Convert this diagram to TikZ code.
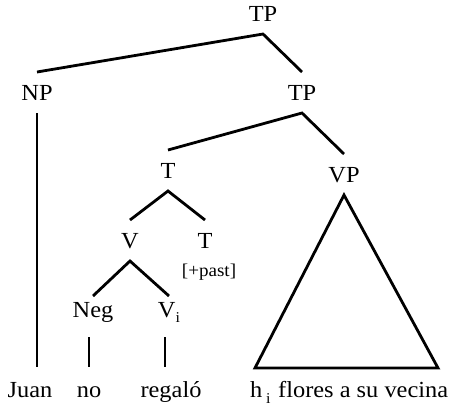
\documentclass[tikz,border=0pt]{standalone}
\usepackage{fontspec}
\setmainfont{Liberation Serif}[FakeStretch=1.06]
\usepackage{tikz}

\newcommand{\idx}[2]{\raisebox{#1}{\fontsize{15}{15}\selectfont #2}}

\begin{document}
\begin{tikzpicture}[x=1pt, y=-1pt,
    cat/.style={anchor=base, inner sep=0pt, outer ysep=13pt,
        text height=15pt, text depth=0pt, font=\fontsize{23}{27}\selectfont},
    head/.style={cat, outer ysep=6pt, text depth=14pt},
    word/.style={anchor=base, inner sep=0pt, outer ysep=15pt,
        text height=15pt, text depth=0pt, font=\fontsize{23}{27}\selectfont},
    branch/.style={line width=2.8pt}]
    \useasboundingbox (0,0) rectangle (452,408);

    % Root and subject
    \node[cat] (tp) at (263,21) {TP};
    \node[cat] (np) at (37,100) {NP};
    \node[cat] (tpbar) at (302,100) {TP};
    \draw[branch] (np.north) -- (tp.south) -- (tpbar.north);

    % T and VP
    \node[cat] (t) at (168,178) {T};
    \node[cat] (vp) at (344,182) {VP};
    \draw[branch] (t.north) -- (tpbar.south) -- (vp.north);

    % V + T
    \node[cat] (v) at (130,248) {V};
    \node[cat] (tense) at (205,248) {T};
    \node[anchor=base, font=\fontsize{18}{22}\selectfont] (past) at (209,276) {[+past]};
    \draw[branch] (v.north) -- (t.south) -- (tense.north);

    % Neg + V
    \node[head] (neg) at (93,317) {Neg};
    \node[head] (vi) at (169,317) {V\idx{-5pt}{i}};
    \draw[branch] (neg.north) -- (v.south) -- (vi.north);

    % Words
    \node[word] (juan) at (30,397) {Juan};
    \node[word] (no) at (89,397) {no};
    \node[word] (regalo) at (171,397) {regaló};
    \node[word, anchor=base west] (hi) at (250,397) {h\,\idx{-6pt}{i}};
    \node[word, anchor=base west] (flores) at (278,397) {flores a su vecina};

    \draw[branch] (np.south) -- (np.south |- juan.north);
    \draw[branch] (neg.south -| no.north) -- (no.north);
    \draw[branch] (vi.south -| 165,0) -- (165,0 |- regalo.north);

    % VP triangle
    \coordinate (vpl) at (255,368);
    \coordinate (vpr) at (438,368);
    \draw[branch] (vp.south) -- (vpl) -- (vpr) -- cycle;
\end{tikzpicture}
\end{document}
